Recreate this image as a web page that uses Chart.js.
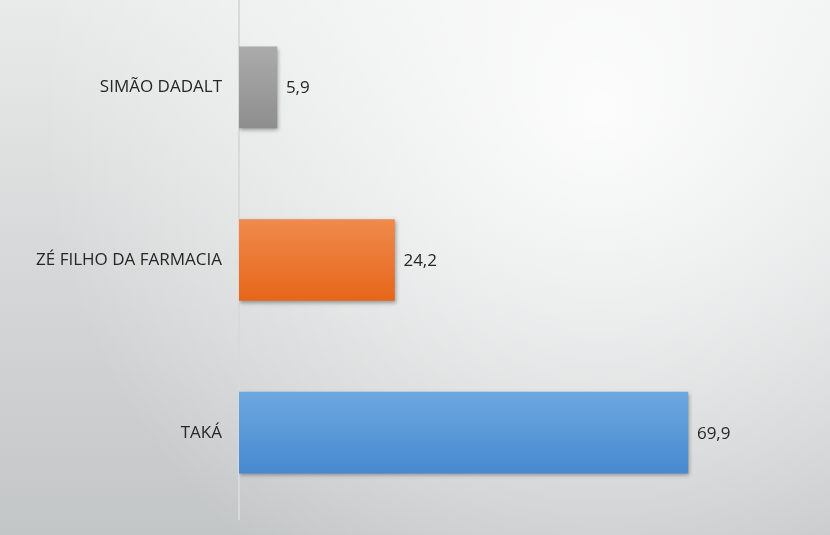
<!DOCTYPE html>
<html>
<head>
<meta charset="utf-8">
<script src="https://cdn.jsdelivr.net/npm/chart.js@4/dist/chart.umd.min.js"></script>
<style>
    html, body { margin: 0; padding: 0; background: #e4e5e6; }
    #wrap { width: 830px; height: 535px; position: relative; }
</style>
</head>
<body>
<div id="wrap"><canvas id="barChart"></canvas></div>
<script>
// chart data
var candidates = ["SIMÃO DADALT", "ZÉ FILHO DA FARMACIA", "TAKÁ"];
var votes = [5.9, 24.2, 69.9];
var valueLabels = ["5,9", "24,2", "69,9"];
var topColors = ["#ababab", "#f08a4c", "#6da8df"];
var bottomColors = ["#8e8e8e", "#e6661a", "#4788cf"];

var BAR_THICK = 81;

// background: light at the top right, greyer to the bottom left
var backgroundPlugin = {
    id: 'bgGradient',
    beforeDraw: function(chart) {
        var ctx = chart.ctx;
        var w = chart.width, h = chart.height;
        ctx.save();
        var lin = ctx.createLinearGradient(0, 0, 0, h);
        lin.addColorStop(0, "#e9eaea");
        lin.addColorStop(1, "#c3c6c7");
        ctx.fillStyle = lin;
        ctx.fillRect(0, 0, w, h);
        var rad = ctx.createRadialGradient(600, 110, 0, 600, 110, 560);
        rad.addColorStop(0, "rgba(255,255,255,0.9)");
        rad.addColorStop(0.5, "rgba(255,255,255,0.45)");
        rad.addColorStop(1, "rgba(255,255,255,0)");
        ctx.fillStyle = rad;
        ctx.fillRect(0, 0, w, h);
        ctx.restore();
    }
};

// soft shadow under the bars
var shadowPlugin = {
    id: 'barShadow',
    beforeDatasetsDraw: function(chart) {
        var ctx = chart.ctx;
        ctx.save();
        ctx.shadowColor = "rgba(0,0,0,0.35)";
        ctx.shadowBlur = 4;
        ctx.shadowOffsetX = 1;
        ctx.shadowOffsetY = 2;
    },
    afterDatasetsDraw: function(chart) {
        chart.ctx.restore();
    }
};

// value text right of each bar
var valuePlugin = {
    id: 'valueText',
    afterDatasetsDraw: function(chart) {
        var ctx = chart.ctx;
        var meta = chart.getDatasetMeta(0);
        ctx.save();
        ctx.font = "17px 'Open Sans'";
        ctx.fillStyle = "#262626";
        ctx.textAlign = "left";
        ctx.textBaseline = "middle";
        meta.data.forEach(function(bar, i) {
            ctx.fillText(valueLabels[i], bar.x + 9, bar.y + 1);
        });
        ctx.restore();
    }
};

function barGradient(context) {
    var chart = context.chart;
    var i = context.dataIndex;
    var yScale = chart.scales.y;
    if (!yScale || yScale.top === undefined) {
        return topColors[i];
    }
    var cy = yScale.getPixelForValue(i);
    var g = chart.ctx.createLinearGradient(0, cy - BAR_THICK / 2, 0, cy + BAR_THICK / 2);
    g.addColorStop(0, topColors[i]);
    g.addColorStop(1, bottomColors[i]);
    return g;
}

var chartSelector = document.getElementById("barChart");
var voteChart = new Chart(chartSelector, {
    type: 'bar',
    data: {
        labels: candidates,
        datasets: [{
            data: votes,
            backgroundColor: barGradient,
            borderWidth: 0,
            barThickness: BAR_THICK
        }]
    },
    options: {
        indexAxis: 'y',
        responsive: true,
        maintainAspectRatio: false,
        animation: false,
        events: [],
        layout: {
            autoPadding: false,
            padding: { top: 1, bottom: 16, left: 0, right: 13 }
        },
        plugins: {
            legend: { display: false },
            tooltip: { enabled: false }
        },
        scales: {
            x: {
                display: false,
                min: 0,
                max: 90
            },
            y: {
                afterFit: function(scale) {
                    scale.width = 239;
                    // labels sit beside the bars, no extra room needed above/below
                    scale.paddingTop = 0;
                    scale.paddingBottom = 0;
                },
                grid: { display: false, drawTicks: false },
                border: { display: true, color: "#d8d9d9", width: 2 },
                ticks: {
                    padding: 17,
                    color: "#262626",
                    font: { family: "'Open Sans'", size: 17 }
                }
            }
        }
    },
    plugins: [backgroundPlugin, shadowPlugin, valuePlugin]
});
</script>
</body>
</html>
